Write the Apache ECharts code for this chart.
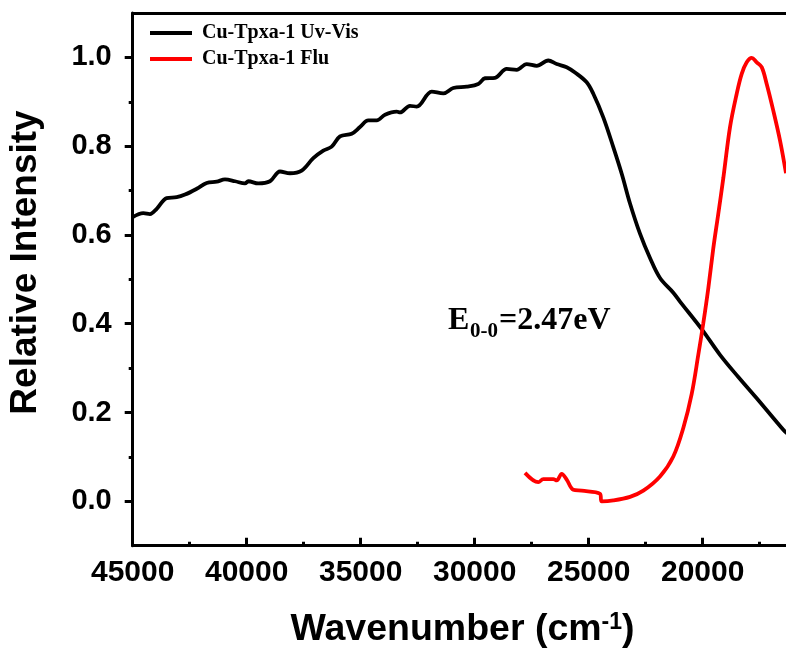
<!DOCTYPE html>
<html>
<head>
<meta charset="utf-8">
<script src="https://cdn.jsdelivr.net/npm/echarts@6/dist/echarts.min.js"></script>
<style>
html,body{margin:0;padding:0;background:#fff;}
#chart{width:786px;height:655px;}
</style>
</head>
<body>
<div id="chart"></div>
<script>
// UV-Vis (black) : wavenumber (cm-1) and relative intensity
var uvX = [45000,44535,44241,43947,43509,43070,42706,42193,41754,41316,40952,40513,40075,39930,39491,38978,38539,38101,37588,37079,36640,36272,35908,35395,35031,34667,34298,33934,33421,33276,32838,32544,31886,31377,30938,30351,29842,29548,29110,28596,28158,27719,27281,26772,26403,25965,25601,25088,24798,24360,23921,23552,23188,22750,22311,21873,21289,20995,20044,19241,18438,17631,16465,16300];
var uvY = [0.640,0.649,0.647,0.659,0.683,0.685,0.691,0.704,0.717,0.720,0.725,0.721,0.716,0.721,0.716,0.721,0.743,0.739,0.745,0.773,0.790,0.799,0.822,0.828,0.843,0.858,0.858,0.871,0.878,0.876,0.891,0.889,0.923,0.919,0.931,0.934,0.940,0.953,0.954,0.974,0.972,0.985,0.981,0.993,0.985,0.978,0.966,0.944,0.918,0.865,0.798,0.738,0.671,0.603,0.548,0.503,0.470,0.450,0.388,0.330,0.280,0.232,0.161,0.153];
// Fluorescence (red)
var fluX = [27794,27210,26991,26553,26403,26184,25965,25675,25307,24504,24430,23921,23188,22605,21873,21289,20851,20482,20193,19974,19754,19535,19316,19096,18802,18509,18289,18070,17851,17631,17412,17193,16904,16610,16346];
var fluY = [0.064,0.043,0.050,0.050,0.047,0.062,0.049,0.026,0.024,0.017,0.000,0.002,0.010,0.024,0.056,0.101,0.165,0.242,0.330,0.401,0.480,0.570,0.648,0.728,0.843,0.918,0.963,0.989,0.999,0.989,0.978,0.940,0.880,0.813,0.739];
var seriesNames = ['Cu-Tpxa-1 Uv-Vis','Cu-Tpxa-1 Flu'];
var yTicks = [0,0.2,0.4,0.6,0.8,1.0];
var yMinorTicks = [0.1,0.3,0.5,0.7,0.9];
var xHiddenLabels = [15000];

function pairs(xs, ys){ var out=[]; for(var i=0;i<xs.length;i++) out.push([xs[i],ys[i]]); return out; }

var chart = echarts.init(document.getElementById('chart'), null, {renderer:'canvas'});
var sans = '"Liberation Sans", Arial, sans-serif';
var serif = '"Liberation Serif", "Times New Roman", serif';

var option = {
  backgroundColor:'#fff',
  animation:false,
  grid: {left:132.7, top:13, width:684, height:532.7, containLabel:false, outerBoundsMode:'none'},
  legend: {
    orient:'vertical', left:150, top:23, padding:0, itemWidth:42, itemHeight:4, itemGap:6,
    icon:'rect',
    data: seriesNames,
    textStyle:{fontFamily:serif, fontWeight:'bold', fontSize:20, color:'#000', padding:[0,0,0,5]}
  },
  xAxis: [{
    type:'value', min:15000, max:45000, interval:5000, inverse:true, position:'bottom',
    axisLine:{show:true, onZero:false, lineStyle:{color:'#000', width:3}},
    axisTick:{show:true, inside:true, length:8, lineStyle:{color:'#000', width:3}},
    minorTick:{show:true, splitNumber:2, length:4, lineStyle:{color:'#000', width:3}},
    splitLine:{show:false},
    axisLabel:{show:true, margin:12, fontFamily:sans, fontWeight:'bold', fontSize:30, color:'#000', hideOverlap:false, showMinLabel:true, showMaxLabel:true,
      formatter:function(v){ return xHiddenLabels.indexOf(v) >= 0 ? '' : String(v); }}
  },{
    type:'value', position:'top', min:15000, max:45000, inverse:true,
    axisLine:{show:true, onZero:false, lineStyle:{color:'#000', width:3}},
    axisTick:{show:false}, axisLabel:{show:false}, splitLine:{show:false}
  }],
  yAxis: [{
    type:'value', min:-0.1, max:1.1, position:'left',
    axisLine:{show:true, onZero:false, lineStyle:{color:'#000', width:3}},
    axisTick:{show:true, inside:false, length:8, customValues:yTicks, lineStyle:{color:'#000', width:3}},
    splitLine:{show:false},
    axisLabel:{show:true, margin:21, customValues:yTicks, fontFamily:sans, fontWeight:'bold', fontSize:29, color:'#000',
      formatter:function(v){ return v.toFixed(1); }}
  },{
    type:'value', position:'left', min:-0.1, max:1.1,
    axisLine:{show:false, onZero:false},
    axisTick:{show:true, inside:false, length:4, customValues:yMinorTicks, lineStyle:{color:'#000', width:3}},
    axisLabel:{show:false}, splitLine:{show:false}
  }],
  series: [{
    name: seriesNames[0], type:'line', xAxisIndex:0, yAxisIndex:0,
    data: pairs(uvX, uvY), showSymbol:false, symbol:'none', smooth:0.35,
    lineStyle:{color:'#000', width:3.8}, itemStyle:{color:'#000'}
  },{
    name: seriesNames[1], type:'line', xAxisIndex:0, yAxisIndex:0,
    data: pairs(fluX, fluY), showSymbol:false, symbol:'none', smooth:0.35,
    lineStyle:{color:'#ff0000', width:3.8}, itemStyle:{color:'#ff0000'}
  }],
  graphic: [
    {type:'text', x:26, y:262.5, rotation:Math.PI/2,
      style:{text:'Relative Intensity', fontFamily:sans, fontWeight:'bold', fontSize:37, fill:'#000', align:'center', verticalAlign:'middle'}},
    {type:'text', x:462.5, y:630,
      style:{text:'{a|Wavenumber (cm}{s|-1}{a|)}', fill:'#000', align:'center', verticalAlign:'middle',
        rich:{a:{fontFamily:sans, fontWeight:'bold', fontSize:37.5, fill:'#000'},
              s:{fontFamily:sans, fontWeight:'bold', fontSize:23, fill:'#000', verticalAlign:'top'}}}},
    {type:'text', x:448, y:321,
      style:{text:'E', fontFamily:serif, fontWeight:'bold', fontSize:32, fill:'#000', align:'left', verticalAlign:'middle'}},
    {type:'text', x:470, y:332,
      style:{text:'0-0', fontFamily:serif, fontWeight:'bold', fontSize:21, fill:'#000', align:'left', verticalAlign:'middle'}},
    {type:'text', x:499, y:321,
      style:{text:'=2.47eV', fontFamily:serif, fontWeight:'bold', fontSize:32, fill:'#000', align:'left', verticalAlign:'middle'}}
  ]
};
chart.setOption(option);
</script>
</body>
</html>
